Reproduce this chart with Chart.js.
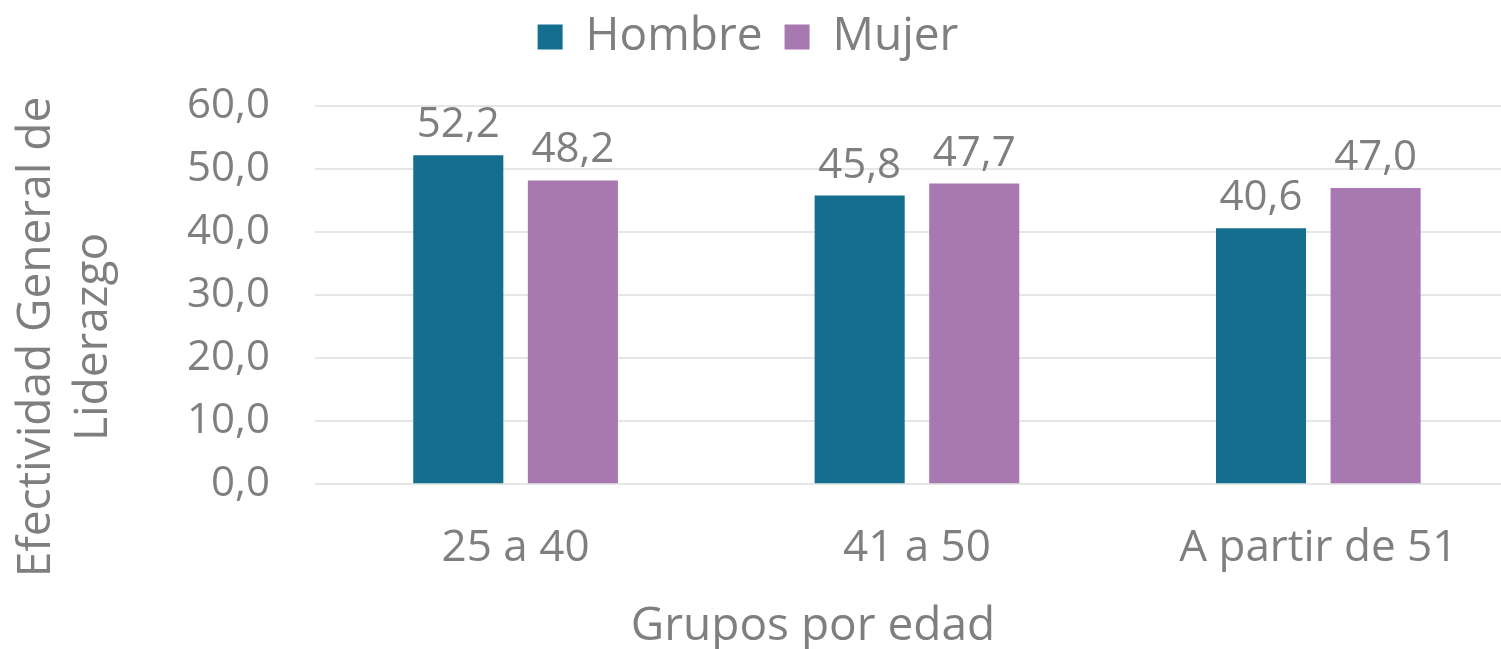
<!DOCTYPE html>
<html><head><meta charset="utf-8">
<script src="https://cdn.jsdelivr.net/npm/chart.js@4"></script>
<style>html,body{margin:0;padding:0;background:#fff;overflow:hidden;width:1501px;height:649px}</style>
</head><body>
<canvas id="c" width="1519" height="649"></canvas>
<script>
const categories = ["25 a 40", "41 a 50", "A partir de 51"];
const hombre = [52.2, 45.8, 40.6];
const mujer = [48.2, 47.7, 47.0];
const seriesNames = ["Hombre", "Mujer"];
const yTitle = ["Efectividad General de", "Liderazgo"];
const xTitle = "Grupos por edad";

const FONT = "'Open Sans', sans-serif";
const GRAY = "#7f7f7f";
const fmt = v => v.toFixed(1).replace(".", ",");

const labelsPlugin = {
  id: "vals",
  afterDatasetsDraw(chart) {
    const ctx = chart.ctx;
    ctx.save();
    ctx.font = "42px " + FONT;
    ctx.fillStyle = GRAY;
    ctx.textAlign = "center";
    ctx.textBaseline = "alphabetic";
    chart.data.datasets.forEach((ds, i) => {
      chart.getDatasetMeta(i).data.forEach((bar, j) => {
        ctx.fillText(fmt(ds.data[j]), bar.x, bar.y - 18);
      });
    });
    ctx.restore();
  }
};
const titlesPlugin = {
  id: "titles",
  afterLayout(chart) {
    const shift = (chart.legend.left + chart.legend.right) / 2 - 748;
    chart.legend.left -= shift;
    chart.legend.right -= shift;
    chart.legend.top -= 10;
    chart.legend.bottom -= 10;
  },
  afterDraw(chart) {
    const ctx = chart.ctx;
    ctx.save();
    ctx.font = "46px " + FONT;
    ctx.fillStyle = GRAY;
    ctx.textAlign = "center";
    ctx.textBaseline = "alphabetic";
    ctx.fillText(xTitle, 813, 640);
    const baselines = [50, 107];
    yTitle.forEach((line, k) => {
      ctx.save();
      ctx.translate(baselines[k], 337);
      ctx.rotate(-Math.PI / 2);
      ctx.fillText(line, 0, 0);
      ctx.restore();
    });
    ctx.restore();
  }
};
const legendGap = {
  id: "legendGap",
  beforeInit(chart) {
    const orig = chart.legend.fit;
    chart.legend.fit = function () {
      orig.call(this);
      this.height += 26;
    };
  }
};

new Chart(document.getElementById("c"), {
  type: "bar",
  data: {
    labels: categories,
    datasets: [
      { label: seriesNames[0], data: hombre, backgroundColor: "#136f8d" },
      { label: seriesNames[1], data: mujer, backgroundColor: "#a878b1" }
    ]
  },
  options: {
    responsive: false,
    animation: false,
    devicePixelRatio: 1,
    categoryPercentage: 0.571,
    barPercentage: 0.786,
    layout: { padding: { left: 142, right: 0, top: 2, bottom: 44 } },
    plugins: {
      tooltip: { enabled: false },
      legend: {
        position: "top",
        labels: {
          boxWidth: 25, boxHeight: 25, padding: 22,
          color: GRAY, font: { family: FONT, size: 46 }
        }
      }
    },
    scales: {
      x: {
        grid: { display: false },
        border: { display: false },
        ticks: { color: GRAY, font: { family: FONT, size: 44 }, padding: 30 }
      },
      y: {
        min: 0, max: 60,
        grid: { color: "#e6e6e6", lineWidth: 2, drawTicks: false },
        border: { display: false },
        ticks: { stepSize: 10, color: GRAY, font: { family: FONT, size: 42 }, padding: 45, callback: v => fmt(v) }
      }
    }
  },
  plugins: [labelsPlugin, titlesPlugin, legendGap]
});
</script>
</body></html>
